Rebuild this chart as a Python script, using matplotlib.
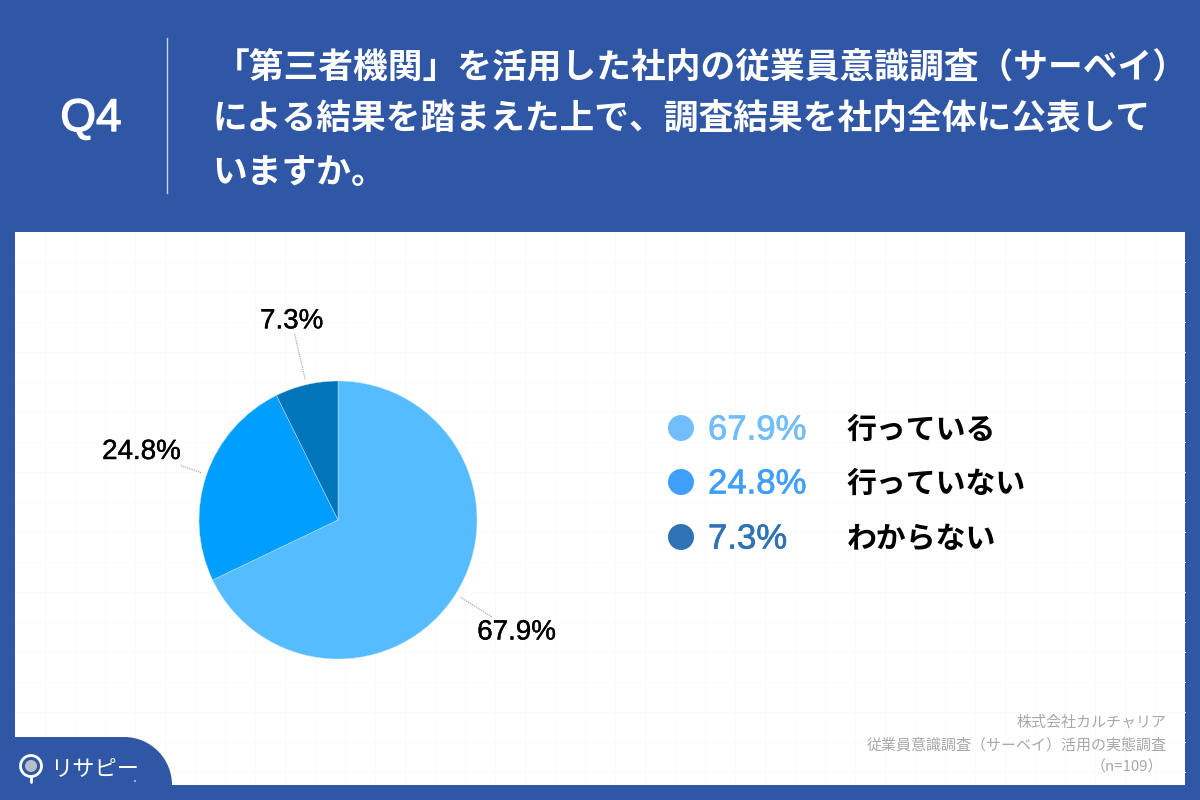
import matplotlib
matplotlib.use("Agg")
import numpy as np
import matplotlib.pyplot as plt
import matplotlib.patheffects as pe
from matplotlib.patches import Rectangle, Circle, PathPatch
from matplotlib.path import Path

JP = ["Noto Sans CJK JP", "DejaVu Sans"]
LAT = ["Liberation Sans", "DejaVu Sans"]

question_tag = "Q4"
title_lines = ["「第三者機関」を活用した社内の従業員意識調査（サーベイ）",
               "による結果を踏まえた上で、調査結果を社内全体に公表して",
               "いますか。"]
categories = ["行っている", "行っていない", "わからない"]
values = [67.9, 24.8, 7.3]
pie_colors = ["#55bcff", "#009fff", "#0075ba"]
legend_colors = ["#72bdfb", "#3f9ffa", "#2f72b5"]
footer_lines = ["株式会社カルチャリア", "従業員意識調査（サーベイ）活用の実態調査", "（n=109）"]
logo_text = "リサピー"

BG = "#3056a6"
fig = plt.figure(figsize=(12, 8), dpi=100, facecolor=BG)
ax = fig.add_axes([0, 0, 1, 1])


def Y(py):
    return 800 - py


def heavy(color, w):
    return [pe.withStroke(linewidth=w, foreground=color)]


# white panel + faint grid
ax.add_patch(Rectangle((15, Y(785)), 1170, 553, fc="white", ec="none", zorder=0))
for gx in np.arange(45, 1185, 30):
    ax.plot([gx, gx], [Y(785), Y(232)], color="#fbfbfb", lw=0.7, zorder=0.1)
for gy in np.arange(262, 785, 30):
    ax.plot([15, 1185], [Y(gy), Y(gy)], color="#fbfbfb", lw=0.7, zorder=0.1)

# header
ax.plot([167, 167], [Y(38), Y(193)], color="#c9d3e8", lw=1.0)
ax.text(91, Y(119), question_tag, family=LAT, fontsize=33, color="white",
        ha="center", va="center", path_effects=heavy("white", 1.0))
title_x = [215, 212, 212]
title_y = [67, 118, 172]
for tx, ty, line in zip(title_x, title_y, title_lines):
    ax.text(tx, Y(ty), line, family=JP, weight="bold", fontsize=25, color="white",
            ha="left", va="center")

# pie
cx, cy, R = 338, Y(520), 139
wedges, _ = ax.pie(values, colors=pie_colors, startangle=90, counterclock=False,
                   center=(cx, cy), radius=R,
                   wedgeprops=dict(edgecolor="#cfe6f7", linewidth=0.3))
for w in wedges:
    w.set_zorder(3)

# leader lines + value labels, placed along each slice's mid-angle
leader_outer = [182, 167, 192]
label_r = [211, 208, 204]
fracs = np.array(values) / sum(values)
mids = 2 * np.pi * (np.cumsum(fracs) - fracs / 2)
for m, v, ro, rl in zip(mids, values, leader_outer, label_r):
    dx, dy = np.sin(m), np.cos(m)
    ax.plot([cx + dx * 145, cx + dx * ro], [cy + dy * 145, cy + dy * ro],
            color="#9a9a9a", lw=0.8, ls=(0, (1, 1)), zorder=2)
    ax.text(cx + dx * rl, cy + dy * rl, f"{v}%", family=LAT, fontsize=20, color="black",
            ha="center", va="center", zorder=4, path_effects=heavy("black", 0.3))

# legend
legend_y = [428, 482, 537]
for ly, cat, v, col in zip(legend_y, categories, values, legend_colors):
    ax.add_patch(Circle((681, Y(ly)), 13, fc=col, ec="none", zorder=3))
    ax.text(708, Y(ly + 2), f"{v}%", family=LAT, fontsize=25, color=col, ha="left",
            va="center", zorder=3, path_effects=heavy(col, 0.5))
    ax.text(847, Y(ly + 2), cat, family=JP, weight="bold", fontsize=21.5, color="black",
            ha="left", va="center", zorder=3)

# footer
footer_y = [722, 745, 767]
footer_x = [1167, 1167, 1163]
for fx, fy, line in zip(footer_x, footer_y, footer_lines):
    ax.text(fx, Y(fy), line, family=JP, fontsize=10.8, color="#a8a8a8",
            ha="right", va="center", zorder=3)

# logo tab
r = 48
k = 0.5523 * r
verts = [(0, Y(800)), (0, Y(737)), (172 - r, Y(737)),
         (172 - r + k, Y(737)), (172, Y(737 + r - k)), (172, Y(737 + r)),
         (172, Y(800)), (0, Y(800))]
codes = [Path.MOVETO, Path.LINETO, Path.LINETO, Path.CURVE4, Path.CURVE4, Path.CURVE4,
         Path.LINETO, Path.CLOSEPOLY]
ax.add_patch(PathPatch(Path(verts, codes), fc=BG, ec="none", zorder=5))
ax.add_patch(Rectangle((0, 0), 1200, 15, fc=BG, ec="none", zorder=5))
ax.add_patch(Circle((31, Y(766)), 10.5, fc="none", ec="white", lw=2, zorder=6))
ax.add_patch(Circle((31, Y(766)), 6, fc="#b9bfc9", ec="none", zorder=6))
ax.plot([31, 31], [Y(777), Y(782)], color="white", lw=2, zorder=6, solid_capstyle="round")
ax.text(50, Y(769), logo_text, family=JP, fontsize=16, color="white", ha="left",
        va="center", zorder=6)
ax.add_patch(Circle((135, Y(781)), 1.2, fc="#9fb3d8", ec="none", zorder=6))

ax.set_xlim(0, 1200)
ax.set_ylim(0, 800)
ax.set_aspect("auto")
ax.axis("off")
fig.savefig("out.png", dpi=100, facecolor=BG)
